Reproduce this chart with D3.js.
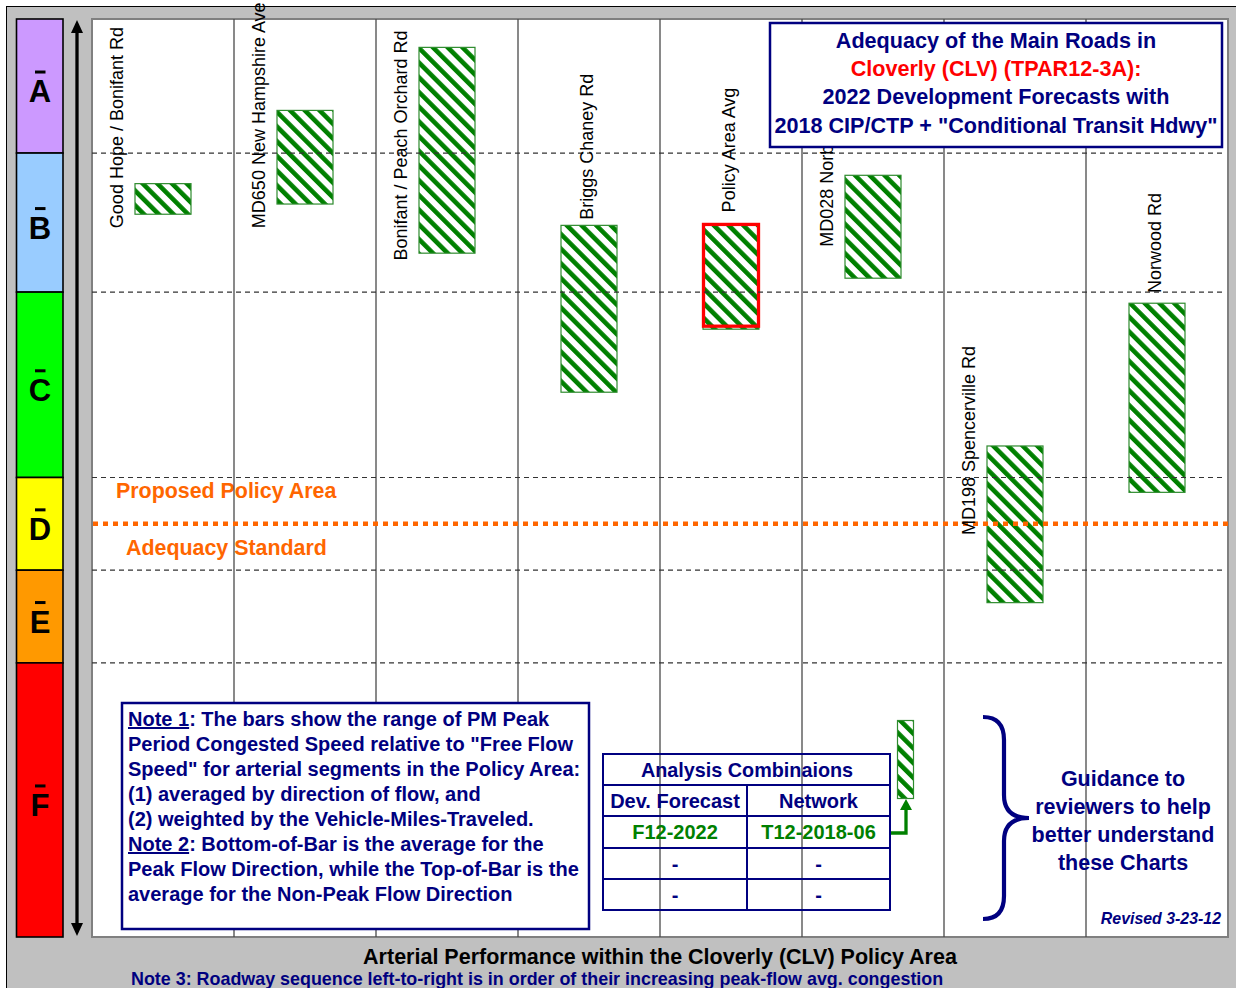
<!DOCTYPE html>
<html><head><meta charset="utf-8">
<script src="https://cdn.jsdelivr.net/npm/d3@7"></script>
<style>body{margin:0;background:#fff}svg{display:block}</style>
</head><body>
<svg id="c" width="1236" height="988"></svg>
<script>
// ---------- DATA ----------
const roads = ["Good Hope / Bonifant Rd", "MD650 New Hampshire Ave", "Bonifant / Peach Orchard Rd",
  "Briggs Chaney Rd", "Policy Area Avg", "MD028 Norbeck Rd", "MD198 Spencerville Rd", "Norwood Rd"];
// congested speed as % of free-flow speed
const topOfBar = [81.7, 89.6, 96.4, 77.2, 77.3, 82.6, 53.4, 68.8];     // non-peak flow direction
const bottomOfBar = [78.4, 79.5, 74.2, 59.2, 66.0, 71.5, 36.5, 48.4];  // peak flow direction
const labelAt = [76.9, 76.9, 73.4, 77.8, 78.6, 74.9, 43.8, 69.9];      // label anchor values
const losLetters = ["A", "B", "C", "D", "E", "F"];
const losBounds = [100, 85, 70, 50, 40, 30, 0];
const losColors = ["#cc99ff", "#99ccff", "#00ff00", "#ffff00", "#ff9900", "#ff0000"];
const adequacyStandard = 45;
const highlightRoad = "Policy Area Avg";
const titleLines = ["Adequacy of the Main Roads in", "Cloverly (CLV) (TPAR12-3A):",
  "2022 Development Forecasts with", "2018 CIP/CTP + \"Conditional Transit Hdwy\""];
const noteLines = [
  [["Note 1", true], [": The bars show the range of PM Peak", false]],
  [["Period Congested Speed relative to \"Free Flow", false]],
  [["Speed\" for arterial segments in the Policy Area:", false]],
  [["(1) averaged by direction of flow, and", false]],
  [["(2) weighted by the Vehicle-Miles-Traveled.", false]],
  [["Note 2", true], [": Bottom-of-Bar is the average for the", false]],
  [["Peak Flow Direction, while the Top-of-Bar is the", false]],
  [["average for the Non-Peak Flow Direction", false]]
];
const tableHeader = "Analysis Combinaions";
const tableRows = [["Dev. Forecast", "Network"], ["F12-2022", "T12-2018-06"], ["-", "-"], ["-", "-"]];
const guidanceLines = ["Guidance to", "reviewers to help", "better understand", "these Charts"];
const revisedText = "Revised 3-23-12";
const xTitle = "Arterial Performance within the Cloverly (CLV) Policy Area";
const note3 = "Note 3: Roadway sequence left-to-right is in order of their increasing peak-flow avg. congestion";

// ---------- LAYOUT ----------
const FONT = "'Liberation Sans', Arial, sans-serif";
const NAVY = "#000080", GREEN = "#008000", ORANGE = "#ff6600";
const P = {l: 92, r: 1228, t: 19, b: 937};
const svg = d3.select("#c");

const x = d3.scaleBand().domain(roads).range([P.l, P.r]).paddingInner(0.6056).paddingOuter(0.3028);
const step = x.step();
const y = d3.scaleLinear().domain([0, 100]).range([941, 14]);
const cy = v => Math.max(P.t, Math.min(P.b, y(v)));

const defs = svg.append("defs");
const pat = defs.append("pattern").attr("id", "hatch").attr("patternUnits", "userSpaceOnUse")
  .attr("width", 10.4).attr("height", 10.4).attr("patternTransform", "rotate(-45)");
pat.append("rect").attr("width", 10.4).attr("height", 10.4).attr("fill", "#fff");
pat.append("rect").attr("width", 4.6).attr("height", 10.4).attr("fill", GREEN);

// outer frame
svg.append("rect").attr("x", 6.5).attr("y", 6.5).attr("width", 1240).attr("height", 1000)
  .attr("fill", "#c0c0c0").attr("stroke", "#000").attr("stroke-width", 1);

// LOS color bar
const los = svg.append("g");
losLetters.forEach((L, i) => {
  const t = cy(losBounds[i]), b = cy(losBounds[i + 1]);
  los.append("rect").attr("x", 16.5).attr("y", t).attr("width", 46.5).attr("height", b - t)
    .attr("fill", losColors[i]).attr("stroke", "#000").attr("stroke-width", 1.6);
  const m = (t + b) / 2;
  los.append("text").attr("x", 40).attr("y", m + 16).attr("text-anchor", "middle")
    .attr("font-family", FONT).attr("font-weight", "bold").attr("font-size", 31).attr("fill", "#000").text(L);
  los.append("rect").attr("x", 35).attr("y", m - 15.5).attr("width", 10.5).attr("height", 3).attr("fill", "#000");
});

// vertical double arrow
const ax = svg.append("g");
ax.append("line").attr("x1", 77).attr("x2", 77).attr("y1", 28).attr("y2", 928).attr("stroke", "#000").attr("stroke-width", 3.3);
ax.append("path").attr("d", `M77,${P.t + 1} L71,${P.t + 14} L83,${P.t + 14} Z`).attr("fill", "#000");
ax.append("path").attr("d", `M77,${P.b - 1} L71,${P.b - 14} L83,${P.b - 14} Z`).attr("fill", "#000");

// plot area
svg.append("rect").attr("x", P.l).attr("y", P.t).attr("width", P.r - P.l).attr("height", P.b - P.t)
  .attr("fill", "#fff").attr("stroke", "#808080").attr("stroke-width", 2);

// orange annotation texts (under grid lines)
svg.append("text").attr("x", 116).attr("y", 498).attr("font-family", FONT).attr("font-weight", "bold")
  .attr("font-size", 21.4).attr("fill", ORANGE).text("Proposed Policy Area");
svg.append("text").attr("x", 126).attr("y", 555).attr("font-family", FONT).attr("font-weight", "bold")
  .attr("font-size", 21.4).attr("fill", ORANGE).text("Adequacy Standard");

// bars
const bars = svg.append("g");
roads.forEach((r, i) => {
  const t = y(topOfBar[i]), b = y(bottomOfBar[i]);
  bars.append("rect").attr("x", x(r)).attr("y", t).attr("width", x.bandwidth()).attr("height", b - t)
    .attr("fill", "url(#hatch)").attr("stroke", "#2e8b2e").attr("stroke-width", 1.2);
  if (r === highlightRoad) {
    bars.append("rect").attr("x", x(r) + 0.5).attr("y", t).attr("width", x.bandwidth() - 1).attr("height", b - t - 3)
      .attr("fill", "none").attr("stroke", "#ff0000").attr("stroke-width", 3.3);
  }
});

// vertical category separators
const sep = svg.append("g");
roads.slice(1).forEach(r => {
  const xx = x(r) - step * 0.6056 / 2;
  sep.append("line").attr("x1", xx).attr("x2", xx).attr("y1", P.t).attr("y2", P.b)
    .attr("stroke", "#4a4a4a").attr("stroke-width", 1.3);
});

// dashed LOS gridlines
losBounds.slice(1, -1).forEach(v => {
  svg.append("line").attr("x1", P.l).attr("x2", P.r - 6).attr("y1", y(v)).attr("y2", y(v))
    .attr("stroke", "#333").attr("stroke-width", 1.2).attr("stroke-dasharray", "5,4");
});

// adequacy standard line
svg.append("line").attr("x1", P.l + 1).attr("x2", P.r).attr("y1", y(adequacyStandard)).attr("y2", y(adequacyStandard))
  .attr("stroke", ORANGE).attr("stroke-width", 4.5).attr("stroke-dasharray", "5,5");

// road labels
roads.forEach((r, i) => {
  const left = labelAt[i] < topOfBar[i];
  const lx = left ? x(r) - 18.5 : x(r) + x.bandwidth() / 2 - 2;
  const ly = y(labelAt[i]);
  svg.append("text").attr("transform", `translate(${lx},${ly}) rotate(-90)`).attr("dy", "0.35em")
    .attr("font-family", FONT).attr("font-size", 18).attr("fill", "#000").text(r);
});

// title box
const tb = svg.append("g");
tb.append("rect").attr("x", 770).attr("y", 23).attr("width", 452).attr("height", 124)
  .attr("fill", "#fff").attr("stroke", NAVY).attr("stroke-width", 2.5);
titleLines.forEach((s, i) => {
  tb.append("text").attr("x", 996).attr("y", 48 + i * 28.2).attr("text-anchor", "middle")
    .attr("font-family", FONT).attr("font-weight", "bold").attr("font-size", 21.6)
    .attr("fill", i === 1 ? "#ff0000" : NAVY).text(s);
});

// note box
const nb = svg.append("g");
nb.append("rect").attr("x", 122).attr("y", 703).attr("width", 467).attr("height", 226)
  .attr("fill", "#fff").attr("stroke", NAVY).attr("stroke-width", 2.5);
noteLines.forEach((segs, i) => {
  const t = nb.append("text").attr("x", 128).attr("y", 726 + i * 25).attr("font-family", FONT)
    .attr("font-weight", "bold").attr("font-size", 20).attr("fill", NAVY);
  segs.forEach(([s, u]) => {
    const ts = t.append("tspan").text(s);
    if (u) ts.attr("text-decoration", "underline");
  });
});

// analysis table
const tg = svg.append("g");
const tX = [603, 747, 890], tY = [754, 785, 816, 848, 879, 910];
tg.append("rect").attr("x", tX[0]).attr("y", tY[0]).attr("width", tX[2] - tX[0]).attr("height", tY[5] - tY[0])
  .attr("fill", "none").attr("stroke", NAVY).attr("stroke-width", 2);
tY.slice(1, -1).forEach(yy => tg.append("line").attr("x1", tX[0]).attr("x2", tX[2]).attr("y1", yy).attr("y2", yy)
  .attr("stroke", NAVY).attr("stroke-width", 2));
tg.append("line").attr("x1", tX[1]).attr("x2", tX[1]).attr("y1", tY[1]).attr("y2", tY[5]).attr("stroke", NAVY).attr("stroke-width", 2);
tg.append("text").attr("x", tX[1]).attr("y", tY[0] + 23).attr("text-anchor", "middle").attr("font-family", FONT)
  .attr("font-weight", "bold").attr("font-size", 19.8).attr("fill", NAVY).text(tableHeader);
tableRows.forEach((row, ri) => {
  row.forEach((s, ci) => {
    tg.append("text").attr("x", (tX[ci] + tX[ci + 1]) / 2).attr("y", tY[ri + 1] + 23).attr("text-anchor", "middle")
      .attr("font-family", FONT).attr("font-weight", "bold").attr("font-size", 20)
      .attr("fill", ri === 1 ? GREEN : NAVY).text(s);
  });
});
// legend sample bar + arrow
tg.append("rect").attr("x", 897.5).attr("y", 720.5).attr("width", 16).attr("height", 78)
  .attr("fill", "url(#hatch)").attr("stroke", "#2e8b2e").attr("stroke-width", 1.2);
tg.append("path").attr("d", "M891,833 L906,833 L906,808").attr("fill", "none").attr("stroke", GREEN).attr("stroke-width", 3.3);
tg.append("path").attr("d", "M906,799 L900,810 L912,810 Z").attr("fill", GREEN);

// brace + guidance
svg.append("path").attr("d", "M983,717 Q1004,717 1004,740 L1004,795 Q1004,818 1029,818 Q1004,818 1004,841 L1004,896 Q1004,919 983,919")
  .attr("fill", "none").attr("stroke", NAVY).attr("stroke-width", 4.2);
guidanceLines.forEach((s, i) => {
  svg.append("text").attr("x", 1123).attr("y", 786 + i * 28).attr("text-anchor", "middle").attr("font-family", FONT)
    .attr("font-weight", "bold").attr("font-size", 21.5).attr("fill", NAVY).text(s);
});
svg.append("text").attr("x", 1221).attr("y", 924).attr("text-anchor", "end").attr("font-family", FONT)
  .attr("font-weight", "bold").attr("font-style", "italic").attr("font-size", 15.9).attr("fill", NAVY).text(revisedText);

// bottom texts
svg.append("text").attr("x", 660).attr("y", 964).attr("text-anchor", "middle").attr("font-family", FONT)
  .attr("font-weight", "bold").attr("font-size", 21.5).attr("fill", "#000").text(xTitle);
svg.append("text").attr("x", 131).attr("y", 985).attr("font-family", FONT)
  .attr("font-weight", "bold").attr("font-size", 17.9).attr("fill", NAVY).text(note3);
</script>
</body></html>
